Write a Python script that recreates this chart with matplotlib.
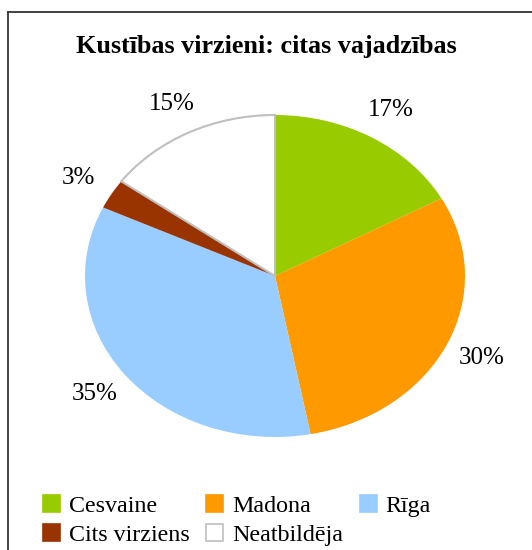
import matplotlib
matplotlib.use("Agg")
import matplotlib.pyplot as plt
from matplotlib.lines import Line2D
from matplotlib.patches import Patch

categories = ["Cesvaine", "Madona", "Rīga", "Cits virziens", "Neatbildēja"]
values = [17, 30, 35, 3, 15]
colors = ["#99CC00", "#FF9900", "#99CCFF", "#993300", "#FFFFFF"]
title = "Kustības virzieni: citas vajadzības"

plt.rcParams['font.family'] = ['Liberation Serif', 'DejaVu Serif']
SERIF = ['Liberation Serif', 'DejaVu Serif']

W, H = 532, 550
fig = plt.figure(figsize=(W / 100, H / 100), dpi=100)

# pie axes (elliptical pie like the original)
cx, cy, rx, ry = 275, 276, 190, 161
ax = fig.add_axes([(cx - rx) / W, 1 - (cy + ry) / H, 2 * rx / W, 2 * ry / H])
wedges, texts, autotexts = ax.pie(
    values, colors=colors, startangle=90, counterclock=False,
    autopct=lambda p: f"{p:.0f}%", pctdistance=1.2,
    wedgeprops=dict(linewidth=0),
    textprops=dict(fontsize=18, color="black", family=SERIF))
wedges[4].set_edgecolor("#BFBFBF")
wedges[4].set_linewidth(1.5)
ax.set_aspect('auto')
ax.set_xlim(-1, 1)
ax.set_ylim(-1, 1)
ax.axis('off')

fig.text(0.5, 1 - 46 / H, title, ha='center', va='center',
         fontsize=18.8, fontweight='bold', family=SERIF)

# legend, ordered so rows read Cesvaine, Madona, Rīga / Cits virziens, Neatbildēja
order = [0, 3, 1, 4, 2]
handles = []
for i in order:
    ec = "#BFBFBF" if i == 4 else colors[i]
    handles.append(Patch(facecolor=colors[i], edgecolor=ec, linewidth=1.2))
leg = fig.legend(handles, [categories[i] for i in order], ncol=3,
                 loc='upper left', bbox_to_anchor=(26 / W, 1 - 478 / H),
                 frameon=False, prop=dict(family=SERIF, size=17.3),
                 handlelength=0.72, handleheight=0.72, handletextpad=0.35,
                 columnspacing=0.7, labelspacing=0.3, borderpad=0.2)

# partial chart border (left and top)
fig.add_artist(Line2D([8 / W, 8 / W], [0, 1 - 12 / H], color="#333333", lw=1.3))
fig.add_artist(Line2D([8 / W, 1], [1 - 12 / H, 1 - 12 / H], color="#333333", lw=1.3))

fig.savefig("out.png", dpi=100)
